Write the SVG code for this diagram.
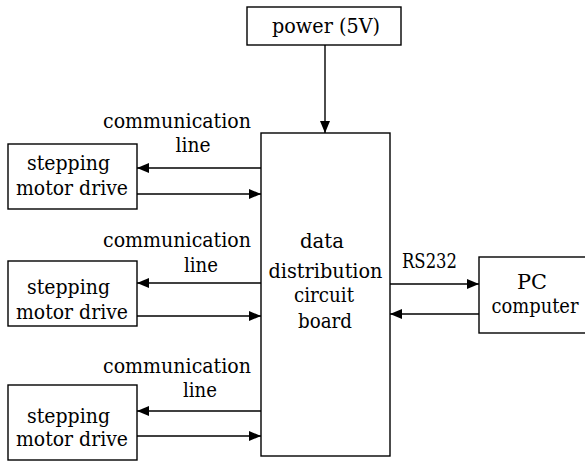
<svg xmlns="http://www.w3.org/2000/svg" width="585" height="465" viewBox="0 0 585 465">
<style>
.box{fill:#fff;stroke:#000;stroke-width:1.4}
.t{font-size:20px;fill:#000;text-anchor:middle}
.c{stroke:#000;stroke-width:1.4;fill:none;marker-end:url(#ah)}
</style>
<defs>
<marker id="ah" markerUnits="userSpaceOnUse" markerWidth="14" markerHeight="12" refX="12" refY="5" orient="auto">
<path d="M0,0 L12,5 L0,10 Z" fill="#000"/>
</marker>
</defs>
<rect width="585" height="465" fill="#fff"/>
<g font-family="'DejaVu Serif', 'Liberation Serif', serif">
<g id="power">
<rect class="box" x="247" y="7" width="154" height="38"/>
<text class="t" x="326" y="33" textLength="108" lengthAdjust="spacingAndGlyphs">power (5V)</text>
</g>
<g id="board">
<rect class="box" x="261" y="133" width="129" height="323"/>
<text class="t" x="322" y="248" textLength="44" lengthAdjust="spacingAndGlyphs">data</text>
<text class="t" x="325.5" y="278" textLength="114" lengthAdjust="spacingAndGlyphs">distribution</text>
<text class="t" x="324" y="302" textLength="60" lengthAdjust="spacingAndGlyphs">circuit</text>
<text class="t" x="325" y="328" textLength="54" lengthAdjust="spacingAndGlyphs">board</text>
</g>
<g id="drive1">
<rect class="box" x="8" y="144" width="129" height="65"/>
<text class="t" x="68.5" y="170" textLength="83" lengthAdjust="spacingAndGlyphs">stepping</text>
<text class="t" x="72" y="195" textLength="112" lengthAdjust="spacingAndGlyphs">motor drive</text>
</g>
<g id="drive2">
<rect class="box" x="8" y="261" width="129" height="65"/>
<text class="t" x="68.5" y="294" textLength="83" lengthAdjust="spacingAndGlyphs">stepping</text>
<text class="t" x="72" y="319" textLength="112" lengthAdjust="spacingAndGlyphs">motor drive</text>
</g>
<g id="drive3">
<rect class="box" x="8" y="385" width="129" height="75"/>
<text class="t" x="68.5" y="423" textLength="83" lengthAdjust="spacingAndGlyphs">stepping</text>
<text class="t" x="72" y="446" textLength="112" lengthAdjust="spacingAndGlyphs">motor drive</text>
</g>
<g id="pc">
<rect class="box" x="479" y="257" width="108" height="76"/>
<text class="t" x="532" y="289" textLength="30" lengthAdjust="spacingAndGlyphs">PC</text>
<text class="t" x="535" y="313" textLength="87" lengthAdjust="spacingAndGlyphs">computer</text>
</g>
<g id="connectors">
<line class="c" x1="325" y1="45" x2="325" y2="133"/>
<line class="c" x1="261" y1="168" x2="137" y2="168"/>
<line class="c" x1="137" y1="194" x2="261" y2="194"/>
<line class="c" x1="261" y1="283" x2="137" y2="283"/>
<line class="c" x1="137" y1="316" x2="261" y2="316"/>
<line class="c" x1="261" y1="411" x2="137" y2="411"/>
<line class="c" x1="137" y1="436" x2="261" y2="436"/>
<line class="c" x1="390" y1="284" x2="479" y2="284"/>
<line class="c" x1="479" y1="314" x2="390" y2="314"/>
<text class="t" x="177" y="128" textLength="148" lengthAdjust="spacingAndGlyphs">communication</text>
<text class="t" x="193" y="152" textLength="35" lengthAdjust="spacingAndGlyphs">line</text>
<text class="t" x="177" y="247" textLength="148" lengthAdjust="spacingAndGlyphs">communication</text>
<text class="t" x="201" y="272" textLength="34" lengthAdjust="spacingAndGlyphs">line</text>
<text class="t" x="177" y="373" textLength="148" lengthAdjust="spacingAndGlyphs">communication</text>
<text class="t" x="200" y="397" textLength="34" lengthAdjust="spacingAndGlyphs">line</text>
<text class="t" x="429.5" y="268" textLength="55" lengthAdjust="spacingAndGlyphs">RS232</text>
</g>
</g>
</svg>
